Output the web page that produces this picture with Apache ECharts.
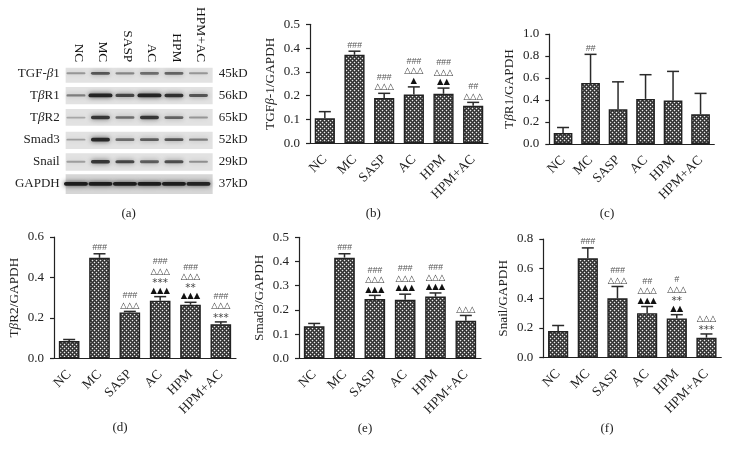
<!DOCTYPE html>
<html>
<head>
<meta charset="utf-8">
<style>
  html, body { margin: 0; padding: 0; background: #fff; }
  #chart { width: 730px; height: 455px; }
</style>
<script src="https://cdn.jsdelivr.net/npm/echarts@6/dist/echarts.min.js"></script>
</head>
<body>
<div id="chart"></div>
<script>
const groups = ['NC', 'MC', 'SASP', 'AC', 'HPM', 'HPM+AC']

// western blot, darkness of each band per lane
const blotRows = ['TGF-β1', 'TβR1', 'TβR2', 'Smad3', 'Snail', 'GAPDH']
const blotSizes = ['45kD', '56kD', '65kD', '52kD', '29kD', '37kD']
const tgfBands = [0.2, 0.6, 0.3, 0.45, 0.5, 0.2]
const r1Bands = [0.35, 0.95, 0.7, 0.95, 0.85, 0.6]
const r2Bands = [0.1, 0.8, 0.45, 0.8, 0.5, 0.2]
const smadBands = [0.15, 0.9, 0.45, 0.55, 0.6, 0.35]
const snailBands = [0.15, 0.8, 0.7, 0.55, 0.65, 0.25]
const gapdhBands = [1, 1, 1, 1, 1, 0.95]

// bar values, top of the error bar, marks from the bar upward
const tgfMean = [0.105, 0.372, 0.19, 0.205, 0.208, 0.158]
const tgfTop = [0.133, 0.387, 0.21, 0.237, 0.232, 0.172]
const tgfMarks = [[], ['###'], ['△△△', '###'], ['▲', '△△△', '###'], ['▲▲', '△△△', '###'], ['△△△', '##']]

const r1Mean = [0.1, 0.555, 0.315, 0.41, 0.395, 0.27]
const r1Top = [0.15, 0.815, 0.565, 0.63, 0.66, 0.46]
const r1Marks = [[], ['##'], [], [], [], []]

const r2Mean = [0.085, 0.497, 0.227, 0.285, 0.265, 0.168]
const r2Top = [0.093, 0.517, 0.232, 0.305, 0.277, 0.18]
const r2Marks = [[], ['###'], ['△△△', '###'], ['▲▲▲', '***', '△△△', '###'], ['▲▲▲', '**', '△△△', '###'], ['***', '△△△', '###']]

const smadMean = [0.132, 0.416, 0.245, 0.242, 0.255, 0.155]
const smadTop = [0.144, 0.432, 0.26, 0.265, 0.27, 0.177]
const smadMarks = [[], ['###'], ['▲▲▲', '△△△', '###'], ['▲▲▲', '△△△', '###'], ['▲▲▲', '△△△', '###'], ['△△△']]

const snailMean = [0.18, 0.67, 0.4, 0.3, 0.265, 0.135]
const snailTop = [0.217, 0.74, 0.48, 0.345, 0.29, 0.16]
const snailMarks = [[], ['###'], ['△△△', '###'], ['▲▲▲', '△△△', '##'], ['▲▲', '**', '△△△', '#'], ['***', '△△△']]

const serif = '"Liberation Serif", serif'
const ink = '#222'

// dotted fill of the bars
const makePattern = () => {
  const c = document.createElement('canvas')
  c.width = 4
  c.height = 4
  const g = c.getContext('2d')
  g.fillStyle = '#303030'
  g.fillRect(0, 0, 4, 4)
  g.fillStyle = '#5c5c5c'
  ;[[1, 0], [3, 0], [0, 1], [0, 3], [1, 2], [3, 2], [2, 1], [2, 3]].forEach(p => g.fillRect(p[0], p[1], 1, 1))
  g.fillStyle = '#eee'
  g.fillRect(0, 0, 1, 1)
  g.fillRect(2, 2, 1, 1)
  return c
}
const pattern = makePattern()

const grids = []
const xAxes = []
const yAxes = []
const series = []

const errorItem = (params, api) => {
  const x = api.value(0)
  const from = api.coord([x, api.value(1)])
  const to = api.coord([x, api.value(2)])
  const line = { stroke: '#2a2a2a', lineWidth: 1.5 }
  return {
    type: 'group',
    children: [
      { type: 'line', shape: { x1: from[0], y1: from[1], x2: to[0], y2: to[1] }, style: line },
      { type: 'line', shape: { x1: to[0] - 6, y1: to[1], x2: to[0] + 6, y2: to[1] }, style: line },
    ],
  }
}

const markStyle = (text) => {
  if (text[0] === '#') return { font: 'italic 8.8px "Liberation Sans"', fill: '#555', dy: 0 }
  if (text[0] === '*') return { font: '10.5px "DejaVu Sans"', fill: '#444', dy: 2 }
  return { font: '8.4px "DejaVu Sans"', fill: text[0] === '▲' ? '#111' : '#333', dy: 0 }
}

const markItem = (marks) => (params, api) => {
  const top = api.coord([api.value(0), api.value(1)])
  const list = marks[params.dataIndex]
  return {
    type: 'group',
    children: list.map((text, i) => {
      const s = markStyle(text)
      return {
        type: 'text',
        style: {
          text,
          x: top[0],
          y: top[1] - 6 - i * 9.6 + s.dy,
          align: 'center',
          verticalAlign: 'middle',
          font: s.font,
          fill: s.fill,
        },
      }
    }),
  }
}

const addPanel = (box, yMax, yStep, name, mean, errTop, marks) => {
  const i = grids.length
  grids.push({ left: box[0], top: box[1], width: box[2], height: box[3] })
  xAxes.push({
    gridIndex: i,
    type: 'category',
    data: groups,
    axisLine: { lineStyle: { color: ink, width: 1.2 } },
    axisTick: { alignWithLabel: true, length: 4, lineStyle: { color: ink, width: 1.2 } },
    axisLabel: { interval: 0, rotate: 45, margin: 14, fontFamily: serif, fontSize: 13.5, color: ink },
  })
  yAxes.push({
    gridIndex: i,
    type: 'value',
    min: 0,
    max: yMax,
    interval: yStep,
    name,
    nameLocation: 'middle',
    nameGap: 33,
    nameTextStyle: {
      fontFamily: serif,
      fontSize: 13.3,
      color: ink,
      rich: {
        n: { fontFamily: serif, fontSize: 13.3, color: ink },
        i: { fontFamily: serif, fontSize: 13.3, color: ink, fontStyle: 'italic' },
      },
    },
    splitLine: { show: false },
    axisLine: { show: true, lineStyle: { color: ink, width: 1.2 } },
    axisTick: { show: true, length: 4, lineStyle: { color: ink, width: 1.2 } },
    axisLabel: {
      margin: 10,
      fontFamily: serif,
      fontSize: 13,
      color: ink,
      formatter: (v) => v.toFixed(1),
    },
  })
  series.push({
    type: 'bar',
    xAxisIndex: i,
    yAxisIndex: i,
    data: mean,
    barWidth: box[2] / 6 * 0.68,
    silent: true,
    itemStyle: {
      color: { image: pattern, repeat: 'repeat' },
      borderColor: '#222',
      borderWidth: 1.4,
    },
  })
  series.push({
    type: 'custom',
    xAxisIndex: i,
    yAxisIndex: i,
    silent: true,
    data: mean.map((v, k) => [k, v, errTop[k]]),
    renderItem: errorItem,
  })
  series.push({
    type: 'custom',
    xAxisIndex: i,
    yAxisIndex: i,
    silent: true,
    data: errTop.map((v, k) => [k, v]),
    renderItem: markItem(marks),
  })
}

const beta = (t) => t.replace('β', '{i|β}')

addPanel([310, 24.3, 178, 119], 0.5, 0.1, '{n|TGF}{i|β}{n|-1/GAPDH}', tgfMean, tgfTop, tgfMarks)
addPanel([549.3, 34, 165, 110], 1.0, 0.2, '{n|T}{i|β}{n|R1/GAPDH}', r1Mean, r1Top, r1Marks)
addPanel([54, 237, 182, 121.3], 0.6, 0.2, '{n|T}{i|β}{n|R2/GAPDH}', r2Mean, r2Top, r2Marks)
addPanel([299, 237.3, 182, 121], 0.5, 0.1, 'Smad3/GAPDH', smadMean, smadTop, smadMarks)
addPanel([543.3, 239, 178, 118.7], 0.8, 0.2, 'Snail/GAPDH', snailMean, snailTop, snailMarks)

// panel (a), the blot. lane labels sit a little right of the bands in the figure
const laneShift = -2.5
const blotGrid = grids.length
grids.push({ left: 66.2, top: 62.3, width: 147, height: 132.6 })
xAxes.push({
  gridIndex: blotGrid,
  type: 'category',
  position: 'top',
  data: groups,
  axisLine: { show: false },
  axisTick: { show: false },
  axisLabel: { interval: 0, rotate: 90, margin: 0, fontFamily: serif, fontSize: 13.4, color: '#111' },
})
const blotLabelRich = { i: { fontFamily: serif, fontSize: 13, color: ink, fontStyle: 'italic' } }
yAxes.push({
  gridIndex: blotGrid,
  type: 'category',
  inverse: true,
  data: blotRows,
  axisLine: { show: false },
  axisTick: { show: false },
  axisLabel: { margin: 6.5, fontFamily: serif, fontSize: 13, color: ink, formatter: beta, rich: blotLabelRich },
})
yAxes.push({
  gridIndex: blotGrid,
  type: 'category',
  inverse: true,
  position: 'right',
  data: blotSizes,
  axisLine: { show: false },
  axisTick: { show: false },
  axisLabel: { margin: 5.5, fontFamily: serif, fontSize: 13, color: ink },
})

const blotValues = [tgfBands, r1Bands, r2Bands, smadBands, snailBands, gapdhBands]
const boxReach = [[5.6, 9.4], [8.4, 8.9], [8.5, 8.2], [7.9, 9.4], [8.4, 9], [9.5, 10.2]]

series.push({
  type: 'custom',
  xAxisIndex: blotGrid,
  yAxisIndex: blotGrid,
  silent: true,
  data: blotRows.map((r, k) => [0, k]),
  z: 1,
  renderItem: (params, api) => {
    const p = api.coord([0, api.value(1)])
    const reach = boxReach[api.value(1)]
    return {
      type: 'rect',
      shape: { x: p[0] + laneShift - 10.3, y: p[1] - reach[0], width: 147, height: reach[0] + reach[1] },
      style: { fill: api.value(1) === 5 ? '#d6d6d6' : '#e2e2e2' },
    }
  },
})
series.push({
  type: 'custom',
  xAxisIndex: blotGrid,
  yAxisIndex: blotGrid,
  silent: true,
  data: blotValues.flatMap((row, r) => row.map((v, l) => [l, r, v])),
  z: 2,
  renderItem: (params, api) => {
    const p = api.coord([api.value(0), api.value(1)])
    const s = api.value(2)
    const h = 1.5 + 2.4 * s
    const color = `rgba(20,20,20,${0.2 + 0.72 * s})`
    const w = s > 0.9 ? 24 : 19
    return {
      type: 'rect',
      shape: { x: p[0] + laneShift - w / 2, y: p[1] - h / 2, width: w, height: h, r: h / 2 },
      style: { fill: color, shadowBlur: 5, shadowColor: color },
    }
  },
})

const panelLabel = (text, x, y) => ({
  type: 'text',
  x,
  y,
  style: { text, align: 'center', verticalAlign: 'middle', font: `13px ${serif}`, fill: ink },
})

const chart = echarts.init(document.getElementById('chart'), null, { renderer: 'canvas' })
chart.setOption({
  animation: false,
  backgroundColor: '#fff',
  grid: grids,
  xAxis: xAxes,
  yAxis: yAxes,
  series,
  graphic: [
    panelLabel('(a)', 128.7, 214),
    panelLabel('(b)', 373.3, 214),
    panelLabel('(c)', 607, 214),
    panelLabel('(d)', 120, 428),
    panelLabel('(e)', 365, 429),
    panelLabel('(f)', 607, 429),
  ],
})
</script>
</body>
</html>
